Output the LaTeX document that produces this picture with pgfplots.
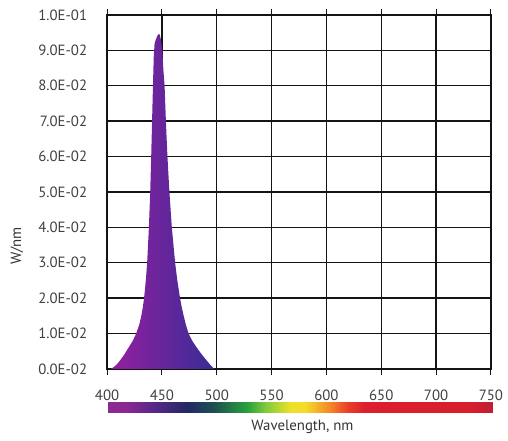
\documentclass[border=0pt]{standalone}
\usepackage{pgfplots}
\pgfplotsset{compat=1.18}
\usepackage{fontspec}
\setmainfont{PT Sans}
\definecolor{gridc}{RGB}{20,20,20}
\definecolor{peakL}{RGB}{150,30,160}
\definecolor{peakM}{RGB}{112,38,162}
\definecolor{peakR}{RGB}{55,45,150}
\begin{document}
\fontsize{15}{17}\selectfont
\begin{tikzpicture}
\begin{axis}[
  name=main, at={(0,0)}, anchor=south west,
  width=387bp, height=357bp, scale only axis,
  xmin=400, xmax=750, ymin=0, ymax=0.1,
  xtick={400,450,500,550,600,650,700,750},
  ytick={0,0.01,0.02,0.03,0.04,0.05,0.06,0.07,0.08,0.09,0.1},
  yticklabels={0.0E-02,1.0E-02,2.0E-02,3.0E-02,4.0E-02,5.0E-02,6.0E-02,7.0E-02,8.0E-02,9.0E-02,1.0E-01},
  /pgf/number format/assume math mode=true,
  scaled y ticks=false,
  grid=major,
  major grid style={line width=1.3pt, gridc},
  axis line style={line width=1.3pt, gridc},
  tick align=outside, major tick length=6bp,
  xtick style={gridc, line width=1pt},
  ytick style={draw=none},
  xticklabel style={yshift=-10bp},
  yticklabel style={xshift=-9bp},
  ylabel={W/nm},
  ylabel style={at={(axis description cs:-0.235,0.347)}, anchor=center},
  tick label style={text=black!75},
  label style={text=black!80},
]
\addplot[draw=none, left color=peakL, middle color=peakM, right color=peakR] coordinates {
(403,0) (406,0.0005) (409.5,0.0015) (412,0.0025) (415.5,0.0040)
(419.5,0.0060) (423.5,0.0080) (426.5,0.0100) (429.3,0.0125)
(431.2,0.0150) (432.6,0.0175) (433.7,0.0200) (435.3,0.0250)
(436.5,0.0300) (438.1,0.0400) (439.3,0.0500) (440.2,0.0600)
(441.0,0.0700) (441.8,0.0800) (442.5,0.0880) (443.3,0.0920)
(445,0.0935) (446.5,0.0945) (448,0.0945) (449,0.0930)
(450.3,0.0900) (451.4,0.0840) (452.4,0.0800) (453.6,0.0700)
(455.0,0.0600) (456.8,0.0500) (459.0,0.0400) (462.0,0.0300)
(464.0,0.0250) (466.5,0.0200) (468.0,0.0175) (469.8,0.0150)
(471.8,0.0125) (474.3,0.0100) (477.5,0.0080) (481.8,0.0060)
(486.5,0.0040) (490.5,0.0025) (494,0.0012) (496.5,0.0004) (498,0)
} \closedcycle;
\end{axis}
\begin{axis}[
  at={(1bp,-33bp)}, anchor=north west,
  width=388bp, height=11bp, scale only axis, hide axis,
  xmin=400, xmax=751, ymin=0, ymax=1,
  point meta min=400, point meta max=751,
  colormap={spec}{
    rgb255(0pt)=(140,40,145);
    rgb255(15pt)=(140,40,145);
    rgb255(43pt)=(85,40,135);
    rgb255(72pt)=(35,40,100);
    rgb255(97pt)=(30,80,80);
    rgb255(127pt)=(40,160,60);
    rgb255(142pt)=(120,200,60);
    rgb255(166pt)=(235,225,40);
    rgb255(180pt)=(245,220,40);
    rgb255(203pt)=(245,130,40);
    rgb255(219pt)=(235,60,40);
    rgb255(234pt)=(220,30,45);
    rgb255(330pt)=(215,30,45);
    rgb255(351pt)=(190,30,50)
  },
]
\addplot[surf, shader=interp, point meta=x, mesh/rows=2] coordinates {
(400,0) (415,0) (443,0) (472,0) (497,0) (527,0) (542,0) (566,0) (580,0) (603,0) (619,0) (634,0) (730,0) (751,0)
(400,1) (415,1) (443,1) (472,1) (497,1) (527,1) (542,1) (566,1) (580,1) (603,1) (619,1) (634,1) (730,1) (751,1)
};
\end{axis}
\node[text=black!80] at (197bp,-58bp) {Wavelength, nm};
\path (-108bp,-72bp) rectangle ++(508bp,444bp);
\end{tikzpicture}
\end{document}
